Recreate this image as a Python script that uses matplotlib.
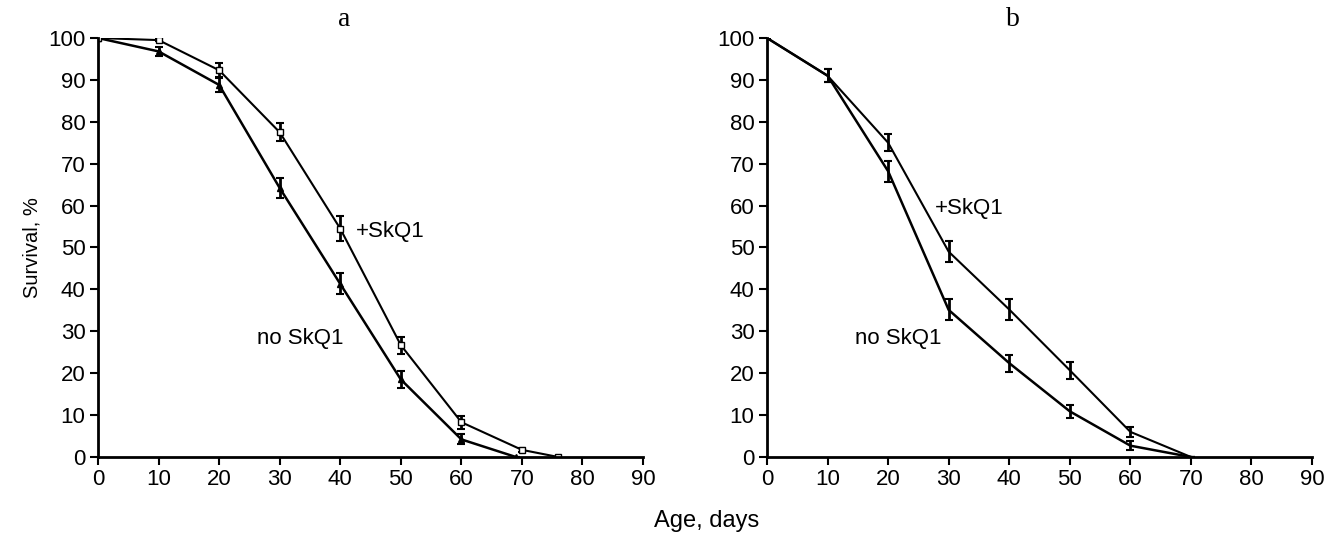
import matplotlib
matplotlib.use("Agg")
import matplotlib.pyplot as plt

plt.rcParams["font.family"] = ["Liberation Sans", "DejaVu Sans"]

# panel a
a_no_x = [0, 10, 20, 30, 40, 50, 60, 69]
a_no_y = [100, 96.8, 88.8, 64.2, 41.3, 18.5, 4.2, 0]
a_no_err = [0, 1.0, 1.8, 2.5, 2.5, 2.0, 1.2, 0]
a_sk_x = [0, 10, 20, 30, 40, 50, 60, 70, 76]
a_sk_y = [100, 99.5, 92.3, 77.5, 54.5, 26.7, 8.3, 1.7, 0]
a_sk_err = [0, 0.3, 1.8, 2.2, 3.0, 2.0, 1.5, 0.5, 0]

# panel b
b_no_x = [0, 10, 20, 30, 40, 50, 60, 70]
b_no_y = [100, 91, 68.2, 35.1, 22.4, 10.9, 2.7, 0]
b_no_err = [0, 1.5, 2.5, 2.5, 2.0, 1.5, 1.0, 0]
b_sk_x = [0, 10, 20, 30, 40, 50, 60, 70]
b_sk_y = [100, 91, 75.0, 49.0, 35.2, 20.7, 6.0, 0]
b_sk_err = [0, 1.5, 2.0, 2.5, 2.5, 2.0, 1.2, 0]

fig = plt.figure(figsize=(13.3, 5.33), dpi=100)
ax_a = fig.add_axes([0.0737, 0.1426, 0.4098, 0.7861])
ax_b = fig.add_axes([0.5767, 0.1426, 0.4098, 0.7861])

err_kw = dict(color="black", ecolor="black", capsize=3, elinewidth=2, capthick=1.5)

ax_a.errorbar(a_no_x, a_no_y, yerr=a_no_err, lw=1.8, marker="^", ms=4,
              mfc="black", **err_kw)
ax_a.errorbar(a_sk_x, a_sk_y, yerr=a_sk_err, lw=1.5, marker="s", ms=4,
              mfc="white", **err_kw)
ax_b.errorbar(b_no_x, b_no_y, yerr=b_no_err, lw=1.8, **err_kw)
ax_b.errorbar(b_sk_x, b_sk_y, yerr=b_sk_err, lw=1.5, **err_kw)

ax_a.text(42.5, 53.7, "+SkQ1", fontsize=16, va="center", ha="left")
ax_a.text(33.4, 28.4, "no SkQ1", fontsize=16, va="center", ha="center")
ax_b.text(33.4, 59.4, "+SkQ1", fontsize=16, va="center", ha="center")
ax_b.text(21.7, 28.4, "no SkQ1", fontsize=16, va="center", ha="center")

for ax, lab in ((ax_a, "a"), (ax_b, "b")):
    ax.set_xlim(0, 90)
    ax.set_ylim(0, 100)
    ax.set_xticks(range(0, 91, 10))
    ax.set_yticks(range(0, 101, 10))
    ax.spines["top"].set_visible(False)
    ax.spines["right"].set_visible(False)
    ax.spines["left"].set_linewidth(2)
    ax.spines["bottom"].set_linewidth(2)
    ax.tick_params(direction="out", length=6, width=1.5, labelsize=16, pad=3)
    ax.text(40.6, 104.5, lab, fontsize=20, family="Liberation Serif",
            ha="center", va="center", clip_on=False)
    for s in ax.spines.values():
        s.set_clip_on(False)

ax_a.set_ylabel("Survival, %", fontsize=14.5, labelpad=5)
fig.text(0.531, 0.022, "Age, days", fontsize=17, ha="center", va="center")

fig.savefig("out.png", dpi=100)
